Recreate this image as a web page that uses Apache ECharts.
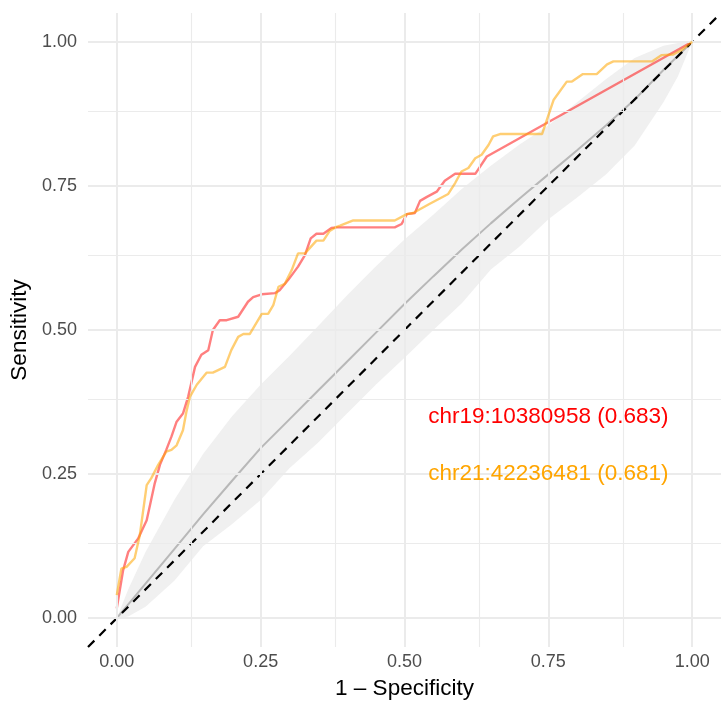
<!DOCTYPE html>
<html>
<head>
<meta charset="utf-8">
<script src="https://cdn.jsdelivr.net/npm/echarts@6/dist/echarts.min.js"></script>
<style>
html,body{margin:0;padding:0;background:#fff;}
#chart{width:722px;height:703px;}
</style>
</head>
<body>
<div id="chart"></div>
<script>
// ---- data ----
const tickValues = [0, 0.25, 0.5, 0.75, 1];
const tickLabels = ['0.00', '0.25', '0.50', '0.75', '1.00'];
const majorGrid = [0, 0.25, 0.5, 0.75, 1];
const minorGrid = [0.125, 0.375, 0.625, 0.875];
const axisRange = [-0.05, 1.05];

const redName = 'chr19:10380958 (0.683)';
const redX = [0, 0.011, 0.020, 0.037, 0.052, 0.066, 0.075, 0.086, 0.095, 0.104, 0.115, 0.124, 0.136, 0.147, 0.159, 0.167, 0.179, 0.191, 0.211, 0.228, 0.237, 0.252, 0.275, 0.283, 0.298, 0.315, 0.327, 0.337, 0.347, 0.359, 0.373, 0.382, 0.483, 0.495, 0.504, 0.518, 0.527, 0.539, 0.556, 0.570, 0.588, 0.623, 0.643, 1];
const redY = [0.017, 0.083, 0.115, 0.138, 0.170, 0.234, 0.266, 0.292, 0.315, 0.341, 0.355, 0.384, 0.436, 0.457, 0.465, 0.500, 0.517, 0.517, 0.523, 0.549, 0.557, 0.562, 0.564, 0.569, 0.587, 0.610, 0.630, 0.659, 0.667, 0.667, 0.677, 0.678, 0.678, 0.684, 0.701, 0.703, 0.724, 0.731, 0.740, 0.759, 0.771, 0.771, 0.801, 1];

const orangeName = 'chr21:42236481 (0.681)';
const orangeX = [0, 0.008, 0.017, 0.031, 0.040, 0.052, 0.060, 0.072, 0.086, 0.095, 0.104, 0.115, 0.121, 0.127, 0.139, 0.156, 0.167, 0.188, 0.199, 0.211, 0.220, 0.231, 0.252, 0.263, 0.272, 0.281, 0.292, 0.304, 0.315, 0.327, 0.347, 0.359, 0.370, 0.382, 0.388, 0.411, 0.483, 0.504, 0.515, 0.544, 0.576, 0.588, 0.599, 0.611, 0.623, 0.634, 0.646, 0.654, 0.666, 0.739, 0.759, 0.782, 0.791, 0.810, 0.834, 0.852, 0.863, 0.930, 0.947, 0.967, 0.982, 1];
const orangeY = [0.040, 0.086, 0.089, 0.104, 0.144, 0.231, 0.243, 0.266, 0.289, 0.292, 0.300, 0.326, 0.358, 0.384, 0.405, 0.426, 0.426, 0.436, 0.465, 0.488, 0.493, 0.493, 0.528, 0.528, 0.543, 0.575, 0.580, 0.604, 0.633, 0.633, 0.655, 0.655, 0.672, 0.679, 0.681, 0.690, 0.690, 0.701, 0.703, 0.719, 0.736, 0.755, 0.775, 0.781, 0.798, 0.804, 0.821, 0.836, 0.840, 0.840, 0.899, 0.931, 0.931, 0.944, 0.944, 0.961, 0.966, 0.966, 0.977, 0.978, 0.986, 1];

const meanX = [0, 0.05, 0.1, 0.15, 0.2, 0.25, 0.3, 0.35, 0.4, 0.45, 0.5, 0.55, 0.6, 0.65, 0.7, 0.75, 0.8, 0.85, 0.9, 0.95, 1];
const meanY = [0, 0.06, 0.12, 0.18, 0.238, 0.295, 0.345, 0.395, 0.445, 0.495, 0.545, 0.593, 0.64, 0.685, 0.728, 0.77, 0.812, 0.855, 0.9, 0.951, 1];

const bandX = [0, 0.02, 0.05, 0.1, 0.15, 0.2, 0.25, 0.3, 0.35, 0.4, 0.45, 0.5, 0.55, 0.6, 0.65, 0.7, 0.75, 0.8, 0.85, 0.9, 0.95, 0.975, 1];
const bandLower = [0, 0.003, 0.02, 0.065, 0.125, 0.163, 0.205, 0.26, 0.305, 0.355, 0.405, 0.452, 0.50, 0.547, 0.605, 0.645, 0.692, 0.73, 0.77, 0.82, 0.895, 0.94, 1];
const bandUpper = [0, 0.05, 0.115, 0.205, 0.285, 0.35, 0.405, 0.455, 0.507, 0.56, 0.61, 0.657, 0.70, 0.745, 0.785, 0.822, 0.855, 0.895, 0.935, 0.972, 0.993, 0.998, 1];

const labelX = [0.75, 0.75];
const labelY = [0.35, 0.25];

// ---- chart ----
const FONT = '"Liberation Sans", Arial, Helvetica, sans-serif';
const zip = (a, b) => a.map((v, i) => [v, b[i]]);
const chart = echarts.init(document.getElementById('chart'), null, {renderer: 'canvas'});

const gridLines = [];
majorGrid.forEach(v => {
  gridLines.push({xAxis: v, lineStyle: {width: 2}});
  gridLines.push({yAxis: v, lineStyle: {width: 2}});
});
minorGrid.forEach(v => {
  gridLines.push({xAxis: v, lineStyle: {width: 1.1}});
  gridLines.push({yAxis: v, lineStyle: {width: 1.1}});
});

const axisCommon = {
  type: 'value',
  min: axisRange[0],
  max: axisRange[1],
  axisLine: {show: false},
  axisTick: {show: false},
  splitLine: {show: false},
  nameLocation: 'middle',
  nameTextStyle: {color: '#000', fontSize: 22.5, fontFamily: FONT},
  axisLabel: {
    customValues: tickValues,
    formatter: v => tickLabels[tickValues.findIndex(t => Math.abs(t - v) < 1e-9)] ?? '',
    color: '#4d4d4d', fontSize: 18, fontFamily: FONT
  }
};

const bandData = bandX.map((x, i) => [x, bandLower[i], bandUpper[i]]);

const option = {
  animation: false,
  backgroundColor: '#fff',
  grid: {left: 88, right: 1, top: 13, bottom: 56, containLabel: false, outerBoundsMode: 'none'},
  xAxis: Object.assign({}, axisCommon, {
    name: '1 \u2013 Specificity', nameGap: 30,
    axisLabel: Object.assign({}, axisCommon.axisLabel, {margin: 6})
  }),
  yAxis: Object.assign({}, axisCommon, {
    name: 'Sensitivity', nameGap: 44,
    axisLabel: Object.assign({}, axisCommon.axisLabel, {margin: 11})
  }),
  series: [
    {
      type: 'line', name: 'grid', data: [], silent: true, z: 0,
      markLine: {
        silent: true, symbol: ['none', 'none'], label: {show: false},
        lineStyle: {color: '#ebebeb', type: 'solid'},
        emphasis: {disabled: true},
        data: gridLines
      }
    },
    {
      type: 'custom', name: 'band', data: bandData, silent: true, z: 1,
      encode: {x: 0, y: [1, 2]},
      renderItem: function (params, api) {
        if (params.dataIndex !== 0) return null;
        const pts = [];
        bandData.forEach(d => pts.push(api.coord([d[0], d[2]])));
        for (let i = bandData.length - 1; i >= 0; i--) pts.push(api.coord([bandData[i][0], bandData[i][1]]));
        return {type: 'polygon', shape: {points: pts}, style: {fill: '#f0f0f0', stroke: null}};
      }
    },
    {
      type: 'line', name: 'mean', data: zip(meanX, meanY), symbol: 'none',
      lineStyle: {color: '#b8b8b8', width: 2}, silent: true, z: 2
    },
    {
      type: 'line', name: 'diag', data: zip(axisRange, axisRange), symbol: 'none',
      lineStyle: {color: '#000', width: 2.2, type: [9, 7]}, silent: true, z: 3
    },
    {
      type: 'line', name: redName, data: zip(redX, redY), symbol: 'none',
      lineStyle: {color: 'rgba(255,0,0,0.5)', width: 2.4}, z: 4
    },
    {
      type: 'line', name: orangeName, data: zip(orangeX, orangeY), symbol: 'none',
      lineStyle: {color: 'rgba(255,165,0,0.55)', width: 2.4}, z: 5
    },
    {
      type: 'scatter', data: [[labelX[0], labelY[0]]], symbolSize: 1, itemStyle: {color: 'rgba(0,0,0,0)'}, z: 6, silent: true,
      label: {show: true, position: 'inside', formatter: redName, color: '#ff0000', opacity: 1, textBorderWidth: 0, fontSize: 22.5, fontFamily: FONT}
    },
    {
      type: 'scatter', data: [[labelX[1], labelY[1]]], symbolSize: 1, itemStyle: {color: 'rgba(0,0,0,0)'}, z: 6, silent: true,
      label: {show: true, position: 'inside', formatter: orangeName, color: '#ffa500', opacity: 1, textBorderWidth: 0, fontSize: 22.5, fontFamily: FONT}
    }
  ]
};
chart.setOption(option);
</script>
</body>
</html>
